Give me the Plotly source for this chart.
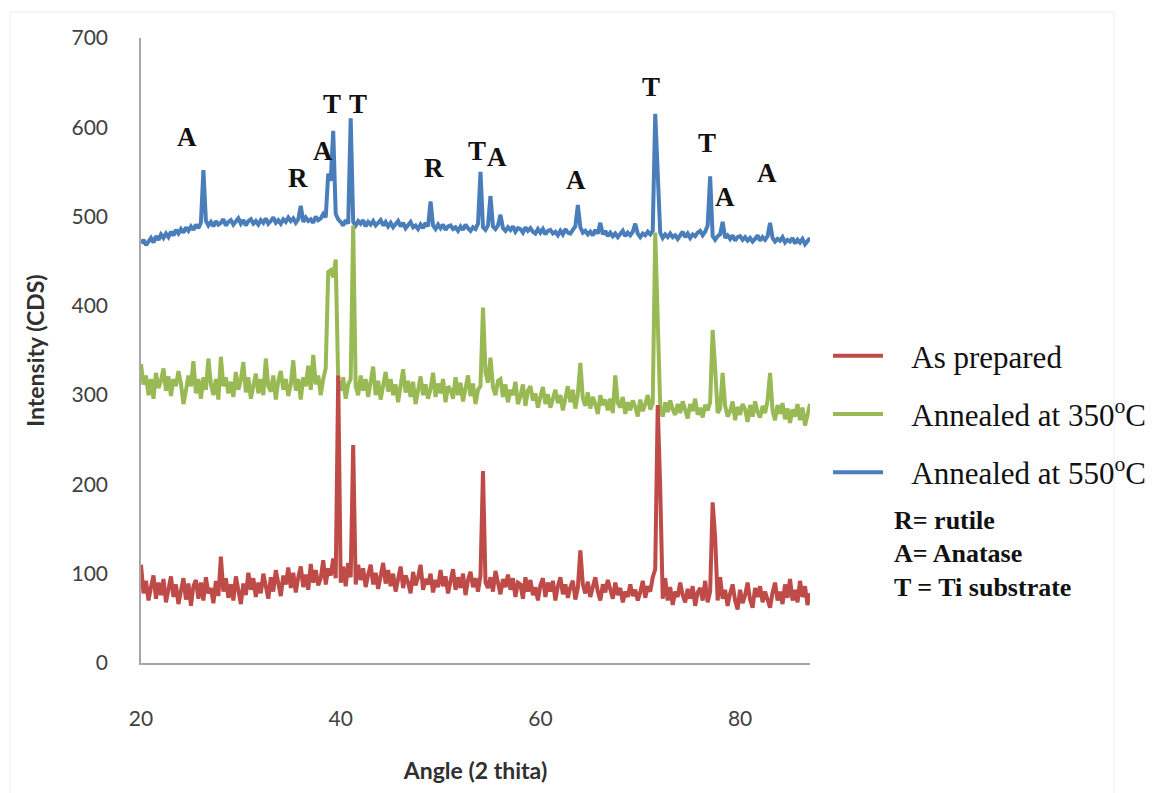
import plotly.graph_objects as go

# ---- data: XRD scans, 2-theta grid from 20 to 87 in 0.25 deg steps ----
ANGLE_START = 20.0
ANGLE_STEP = 0.25

as_prepared = [
    110, 78, 92, 70, 85, 98, 72, 90, 76, 94, 68, 86, 97, 74, 88, 66, 82, 95, 71, 89,      # 20-24
    64, 86, 93, 72, 90, 70, 96, 78, 84, 67, 92, 75, 119, 80, 95, 73, 88, 70, 97, 78,      # 25-29
    66, 89, 76, 101, 82, 95, 74, 90, 78, 100, 84, 72, 96, 80, 104, 86, 75, 98, 88, 107,   # 30-34
    84, 101, 79, 96, 108, 85, 99, 82, 111, 90, 104, 87, 95, 115, 88, 106, 98, 117, 95, 322,  # 35-39
    90, 108, 86, 112, 96, 244, 88, 110, 93, 106, 85, 99, 110, 88, 101, 83, 97, 112, 89, 104,  # 40-44
    86, 100, 80, 95, 108, 84, 98, 90, 78, 102, 87, 96, 110, 82, 94, 88, 100, 79, 93, 85,  # 45-49
    104, 86, 97, 78, 92, 105, 82, 96, 84, 100, 76, 93, 102, 85, 95, 80, 98, 215, 90, 84,  # 50-54
    96, 80, 103, 88, 77, 94, 85, 99, 82, 95, 74, 90, 88, 72, 96, 80, 93, 76, 85, 70,      # 55-59
    87, 95, 74, 90, 80, 92, 70, 86, 96, 77, 88, 73, 85, 92, 71, 84, 126, 88, 78, 91,      # 60-64
    74, 85, 96, 80, 70, 88, 79, 93, 82, 72, 90, 76, 84, 68, 80, 74, 88, 75, 82, 70,       # 65-69
    79, 92, 73, 86, 80, 96, 105, 289, 196, 72, 95, 70, 85, 65, 80, 74, 90, 76, 68, 83,    # 70-74
    72, 86, 64, 79, 84, 70, 92, 68, 80, 180, 141, 70, 96, 72, 82, 64, 78, 88, 70, 60,     # 75-79
    82, 67, 76, 90, 71, 62, 84, 74, 86, 68, 80, 72, 62, 79, 90, 70, 80, 66, 88, 73,       # 80-84
    94, 70, 82, 68, 92, 74, 86, 65, 78,                                                   # 85-87
]

annealed_350 = [
    335, 312, 322, 300, 318, 296, 325, 308, 316, 330, 305, 321, 299, 318, 310, 327, 313, 290, 305, 322,  # 20-24
    310, 338, 302, 318, 296, 320, 306, 341, 312, 300, 318, 295, 343, 310, 320, 302, 315, 298, 326, 306,  # 25-29
    317, 337, 303, 320, 296, 313, 324, 302, 318, 300, 341, 310, 304, 322, 295, 316, 327, 306, 318, 299,  # 30-34
    312, 339, 305, 318, 295, 320, 310, 333, 306, 345, 312, 322, 300, 318, 330, 438, 440, 432, 452, 315,  # 35-39
    305, 320, 296, 312, 318, 490, 310, 300, 322, 305, 318, 298, 314, 332, 300, 316, 295, 310, 326, 304,  # 40-44
    318, 300, 312, 292, 310, 329, 303, 316, 298, 315, 290, 308, 321, 300, 312, 296, 307, 325, 298, 313,  # 45-49
    302, 318, 292, 310, 306, 296, 320, 300, 314, 293, 308, 322, 299, 313, 290, 306, 310, 398, 325, 314,  # 50-54
    342, 309, 300, 316, 318, 298, 312, 292, 306, 300, 315, 290, 299, 312, 288, 305, 310, 294, 302, 286,  # 55-59
    298, 309, 290, 301, 286, 297, 306, 291, 300, 283, 296, 310, 292, 306, 285, 301, 336, 296, 288, 303,  # 60-64
    285, 298, 290, 279, 300, 289, 295, 283, 296, 280, 322, 291, 286, 298, 279, 292, 283, 294, 287, 276,  # 65-69
    295, 282, 290, 300, 284, 291, 482, 400, 287, 276, 292, 281, 294, 284, 278, 290, 280, 293, 285, 274,  # 70-74
    290, 282, 296, 278, 286, 275, 289, 283, 292, 373, 330, 280, 285, 325, 288, 276, 282, 293, 272, 287,  # 75-79
    278, 290, 284, 270, 289, 276, 293, 281, 275, 288, 280, 294, 325, 283, 272, 289, 279, 291, 273, 285,  # 80-84
    269, 284, 276, 290, 272, 286, 266, 281, 290,                                                         # 85-87
]

annealed_550 = [
    470, 474, 468, 473, 476, 471, 478, 474, 480, 476, 481, 477, 483, 479, 485, 481, 486, 482, 488, 484,  # 20-24
    489, 485, 491, 487, 493, 552, 495, 490, 494, 489, 495, 491, 493, 497, 490, 494, 496, 491, 494, 498,  # 25-29
    492, 496, 490, 495, 497, 492, 495, 491, 496, 493, 498, 492, 495, 499, 493, 496, 492, 497, 494, 499,  # 30-34
    495, 498, 493, 497, 512, 494, 499, 495, 497, 493, 500, 496, 498, 503, 499, 548, 540, 596, 503, 497,  # 35-39
    494, 490, 496, 492, 610, 494, 490, 495, 492, 496, 489, 494, 491, 495, 490, 493, 496, 490, 494, 489,  # 40-44
    493, 488, 492, 495, 489, 493, 487, 491, 494, 488, 490, 486, 491, 487, 493, 489, 517, 490, 486, 491,  # 45-49
    487, 491, 485, 489, 490, 486, 488, 484, 489, 485, 491, 487, 484, 488, 486, 492, 550, 488, 485, 490,  # 50-54
    523, 489, 486, 490, 502, 487, 484, 488, 485, 489, 483, 487, 486, 482, 488, 484, 487, 483, 481, 486,  # 55-59
    482, 486, 480, 484, 485, 481, 483, 479, 484, 480, 486, 482, 481, 485, 489, 513, 488, 482, 484, 480,  # 60-64
    483, 479, 485, 481, 493, 480, 484, 478, 482, 478, 481, 477, 480, 484, 478, 482, 479, 483, 492, 481,  # 65-69
    477, 481, 479, 483, 480, 484, 615, 545, 482, 476, 480, 477, 481, 477, 479, 475, 479, 483, 477, 481,  # 70-74
    476, 480, 478, 482, 484, 479, 483, 490, 545, 478, 474, 478, 480, 494, 476, 479, 475, 479, 473, 477,  # 75-79
    478, 474, 477, 473, 476, 472, 475, 479, 473, 477, 474, 478, 493, 476, 472, 475, 473, 477, 471, 474,  # 80-84
    472, 476, 470, 474, 471, 475, 469, 472, 476,                                                         # 85-87
]

series_names = ["As prepared", "Annealed at 350<sup>o</sup>C", "Annealed at 550<sup>o</sup>C"]
series_colors = ["#BE4B48", "#98B954", "#4A7EBB"]

# peak labels (phase letter, 2-theta, intensity where label sits)
peak_letters = ["A", "R", "A", "T", "T", "R", "T", "A", "A", "T", "T", "A", "A"]
peak_angles = [24.6, 35.7, 38.2, 39.1, 41.7, 49.3, 53.6, 55.7, 63.6, 71.1, 76.7, 78.5, 82.7]
peak_heights = [589, 543, 574, 626, 626, 554, 573, 567, 541, 645, 582, 522, 549]

key_lines = ["R= rutile", "A= Anatase", "T = Ti substrate"]

x_ticks = [20, 40, 60, 80]
y_ticks = [0, 100, 200, 300, 400, 500, 600, 700]

# ---- figure ----
n = len(as_prepared)
angles = [ANGLE_START + i * ANGLE_STEP for i in range(n)]

W, H = 1160, 793
L, R, T, B = 141, 810, 38, 663

fig = go.Figure()
# draw order: blue at back, red in front; legend ranks keep red first
for rank, name, col, ys in [(3, series_names[2], series_colors[2], annealed_550),
                            (2, series_names[1], series_colors[1], annealed_350),
                            (1, series_names[0], series_colors[0], as_prepared)]:
    fig.add_trace(go.Scatter(x=angles, y=ys, mode="lines",
                             name="\u00a0\u00a0\u00a0" + name,
                             legendgroup=name, legendrank=rank,
                             line=dict(color=col, width=4)))

for letter, ax, ay in zip(peak_letters, peak_angles, peak_heights):
    fig.add_annotation(x=ax, y=ay, text=letter, showarrow=False,
                       font=dict(family="Liberation Serif", size=27, color="#111111", weight="bold"))

pw, ph = R - L, B - T
def px_x(px):
    return (px - L) / pw
def px_y(py):
    return (B - py) / ph

for i, txt in enumerate(key_lines):
    fig.add_annotation(xref="paper", yref="paper", x=px_x(892), y=px_y(520 + i * 33.5),
                       xanchor="left", yanchor="middle", text=txt, showarrow=False,
                       font=dict(family="Liberation Serif", size=26, color="#111111", weight="bold"))

# faint outer frame
fig.add_shape(type="rect", xref="paper", yref="paper",
              x0=px_x(10), x1=px_x(1114), y0=px_y(800), y1=px_y(12),
              line=dict(color="#ececec", width=1), layer="below")

tick_font = dict(family="Lato", size=21, color="#404040")
title_font = dict(family="Lato", size=23, color="#303030", weight="bold")
fig.update_layout(
    width=W, height=H,
    margin=dict(l=L, r=W - R, t=T, b=H - B),
    paper_bgcolor="white", plot_bgcolor="white",
    showlegend=True,
    legend=dict(xref="container", yref="container", x=828 / W, y=1 - 329 / H,
                xanchor="left", yanchor="top", traceorder="grouped",
                tracegroupgap=15, itemwidth=50,
                font=dict(family="Liberation Serif", size=31, color="#111111"),
                bgcolor="rgba(0,0,0,0)"),
    xaxis=dict(range=[20, 87], tickvals=x_ticks, showgrid=False, zeroline=False,
               showline=True, linecolor="#a6a6a6", linewidth=1.5, ticks="",
               tickfont=tick_font, ticklabelstandoff=36,
               title=dict(text="Angle (2 thita)", standoff=34, font=title_font)),
    yaxis=dict(range=[0, 700], tickvals=y_ticks, showgrid=False, zeroline=False,
               showline=True, linecolor="#a6a6a6", linewidth=1.5, ticks="",
               tickfont=tick_font, ticklabelstandoff=27,
               title=dict(text="Intensity (CDS)", standoff=20, font=title_font)),
)

fig.write_html("out.html")
